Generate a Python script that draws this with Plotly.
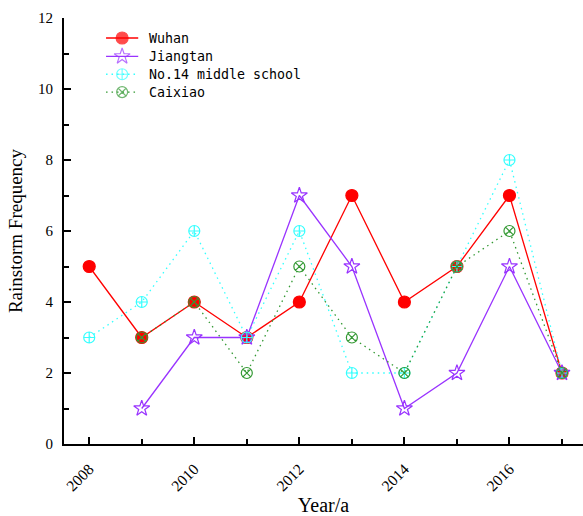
import plotly.graph_objects as go

years = [2008, 2009, 2010, 2011, 2012, 2013, 2014, 2015, 2016, 2017]

wuhan = [5, 3, 4, 3, 4, 7, 4, 5, 7, 2]
jiangtan = [None, 1, 3, 3, 7, 5, 1, 2, 5, 2]
no14 = [3, 4, 6, 3, 6, 2, 2, 5, 8, 2]
caixiao = [None, 3, 4, 2, 5, 3, 2, 5, 6, 2]

names = ["Wuhan", "Jiangtan", "No.14 middle school", "Caixiao"]
values = [wuhan, jiangtan, no14, caixiao]

# per-series style: colour, line dash, marker symbol, marker size
DOT = "1.5px,4px"
styles = [
    ("#ff0000", "solid", "circle", 12),
    ("#9933ff", "solid", "star-open", 12),
    ("#33ffff", DOT, "circle-cross-open", 11),
    ("#339933", DOT, "circle-x-open", 11),
]

fig = go.Figure()
for name, vals, (color, dash, symbol, size) in zip(names, values, styles):
    fig.add_trace(go.Scatter(
        x=years, y=vals, name=name, mode="lines+markers",
        line=dict(color=color, width=1.3, dash=dash),
        marker=dict(symbol=symbol, size=size, color=color,
                    line=dict(color=color, width=1.2)),
        showlegend=False,
    ))

# key drawn on an overlay axis spanning the plot area (0..1 in both directions)
key_x0, key_x1, key_text_x = 0.081, 0.143, 0.160
key_rows = [0.953, 0.910, 0.868, 0.826]
for name, row, (color, dash, symbol, size) in zip(names, key_rows, styles):
    fig.add_trace(go.Scatter(
        x=[key_x0, (key_x0 + key_x1) / 2, key_x1], y=[row, row, row],
        mode="lines+markers", xaxis="x2", yaxis="y2",
        line=dict(color=color, width=1.3, dash=dash),
        marker=dict(symbol=symbol, size=[0, size, 0], color=color,
                    line=dict(color=color, width=[0, 1.2, 0])),
        showlegend=False, hoverinfo="skip",
    ))
    fig.add_annotation(
        x=key_text_x, y=row, xref="x2", yref="y2", text=name,
        showarrow=False, xanchor="left", yanchor="middle",
        font=dict(family="DejaVu Sans Mono, monospace", size=13.3, color="black"),
    )

serif = "Liberation Serif, Times New Roman, serif"

fig.update_layout(
    width=583, height=516,
    margin=dict(l=64, r=0, t=18, b=72),
    paper_bgcolor="white", plot_bgcolor="white",
    showlegend=False,
    xaxis=dict(
        range=[2007.52, 2017.4], automargin=False,
        tick0=2008, dtick=2,
        showgrid=False, zeroline=False,
        showline=True, linecolor="black", linewidth=2,
        ticks="inside", ticklen=7, tickwidth=1.5, tickcolor="black",
        minor=dict(dtick=1, tick0=2008, ticks="inside", ticklen=5,
                   tickwidth=1.5, tickcolor="black", showgrid=False),
        tickangle=-45, ticklabelstandoff=8,
        tickfont=dict(family=serif, size=15.5, color="black"),
        title=dict(text="Year/a", font=dict(family=serif, size=20, color="black"),
                   standoff=12),
    ),
    yaxis=dict(
        range=[0, 12], automargin=False,
        tick0=0, dtick=2,
        showgrid=False, zeroline=False,
        showline=True, linecolor="black", linewidth=2,
        ticks="inside", ticklen=7, tickwidth=1.5, tickcolor="black",
        minor=dict(dtick=1, tick0=0, ticks="inside", ticklen=5,
                   tickwidth=1.5, tickcolor="black", showgrid=False),
        ticklabelstandoff=6,
        tickfont=dict(family=serif, size=15, color="black"),
        title=dict(text="Rainstorm Frequency",
                   font=dict(family=serif, size=19, color="black"),
                   standoff=10),
    ),
    xaxis2=dict(range=[0, 1], overlaying="x", visible=False, fixedrange=True),
    yaxis2=dict(range=[0, 1], overlaying="y", visible=False, fixedrange=True),
)

fig.write_html("out.html")
